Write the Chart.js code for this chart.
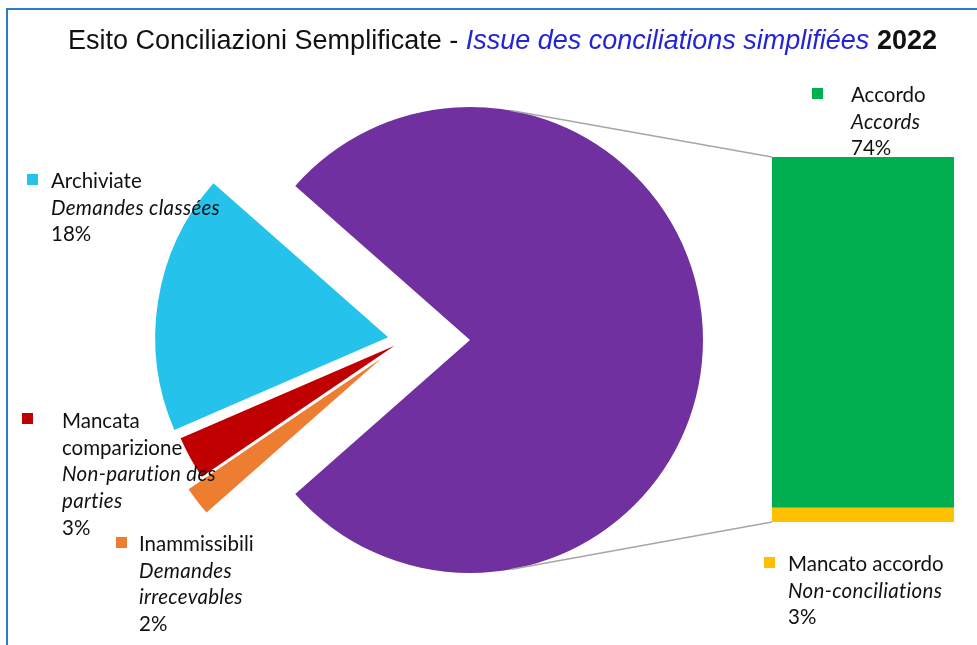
<!DOCTYPE html>
<html>
<head>
<meta charset="utf-8">
<script src="https://cdn.jsdelivr.net/npm/chart.js@4"></script>
<style>
  html, body { margin: 0; padding: 0; background: #fff; }
  #wrap { position: relative; width: 977px; height: 645px; overflow: hidden; }
  #frame { position: absolute; left: 6px; top: 8px; right: 0; bottom: 0;
           border-top: 2px solid #2a7bcc; border-left: 2px solid #2a7bcc; }
  canvas { position: absolute; left: 0; top: 0; }
  #title { position: absolute; left: 68px; top: 25px; white-space: nowrap;
           font-family: "Liberation Sans", Arial, sans-serif; font-size: 27px;
           color: #111; transform-origin: 0 0; }
  #title i { color: #2323d8; }
  .lbl { position: absolute; font-family: Lato, "Open Sans", sans-serif; font-size: 20.5px;
         line-height: 26.7px; color: #111; z-index: 5; }
  .lbl i { letter-spacing: 0.3px; }
  .sq { position: absolute; width: 11px; height: 11px; z-index: 5; }
</style>
</head>
<body>
<div id="wrap">
  <div id="frame"></div>
  <canvas id="pie" width="977" height="645"></canvas>
  <canvas id="bar" width="977" height="645"></canvas>
  <div id="title">Esito Conciliazioni Semplificate - <i>Issue des conciliations simplifiées</i> <b>2022</b></div>
</div>
<script>
// bar (breakdown of the big slice)
const barCategories = ['Accordo', 'Mancato accordo']
const barSubLabels = ['Accords', 'Non-conciliations']
const barValues = [74, 3]
const barColors = ['#00b050', '#ffc000']

// remaining pie slices, clockwise after the big slice
const pieCategories = ['Inammissibili', 'Mancata comparizione', 'Archiviate']
const pieSubLabels = ['Demandes irrecevables', 'Non-parution des parties', 'Demandes classées']
const pieValues = [2, 3, 18]
const pieColors = ['#ed7d31', '#c00000', '#25c3ec']
const otherColor = '#7030a0'

// label placement: [left, top of text, square left, square top, wrap width]
const labelBoxes = {
  'Accordo': [851, 81, 812, 88, 120],
  'Mancato accordo': [788, 550, 764, 557, 200],
  'Inammissibili': [139, 530, 116, 537, 125],
  'Mancata comparizione': [62, 407, 22, 413, 168],
  'Archiviate': [51, 167, 27, 174, 210],
}

const otherTotal = barValues.reduce((a, b) => a + b, 0)
const allPie = [otherTotal, ...pieValues]
const total = allPie.reduce((a, b) => a + b, 0)
const otherDeg = (otherTotal / total) * 360

const wrap = document.getElementById('wrap')
function addLabel(name, sub, value, color) {
  const b = labelBoxes[name]
  const sq = document.createElement('div')
  sq.className = 'sq'
  sq.style.left = b[2] + 'px'
  sq.style.top = b[3] + 'px'
  sq.style.background = color
  wrap.appendChild(sq)
  const d = document.createElement('div')
  d.className = 'lbl'
  d.style.left = b[0] + 'px'
  d.style.top = b[1] + 'px'
  d.style.width = b[4] + 'px'
  d.innerHTML = name + '<br><i>' + sub + '</i><br>' + value + '%'
  wrap.appendChild(d)
}
barCategories.forEach((c, i) => addLabel(c, barSubLabels[i], barValues[i], barColors[i]))
pieCategories.forEach((c, i) => addLabel(c, pieSubLabels[i], pieValues[i], pieColors[i]))

// fit title width
const title = document.getElementById('title')
title.style.transform = 'scaleX(' + (869 / title.offsetWidth) + ')'

// Chart.js grows and narrows offset arcs; undo that so every slice keeps
// the same radius and its full angle
const explodeFix = {
  id: 'explodeFix',
  afterDatasetUpdate(chart, args) {
    const meta = args.meta
    const r = meta.controller.outerRadius
    meta.data.forEach((arc) => {
      const off = (arc.options.offset || 0) / 4
      const grow = off * (1 - Math.sin(Math.min(Math.PI, arc.circumference)))
      arc.outerRadius = r - grow
      const widen = grow / Math.PI / r / 2
      arc.startAngle -= widen
      arc.endAngle += widen
    })
  },
}

const pieChart = new Chart(document.getElementById('pie'), {
  type: 'pie',
  plugins: [explodeFix],
  data: {
    labels: ['Altro', ...pieCategories],
    datasets: [
      {
        data: allPie,
        backgroundColor: [otherColor, ...pieColors],
        borderWidth: 0,
        offset: [260, 120, 48, 68],
      },
    ],
  },
  options: {
    responsive: false,
    animation: false,
    events: [],
    rotation: 90 - otherDeg / 2,
    radius: 233,
    layout: { padding: { left: 105, right: 272, top: 40, bottom: 5 } },
    plugins: { legend: { display: false }, tooltip: { enabled: false } },
  },
})

// grey lines from the big slice to the bar
const connectors = {
  id: 'connectors',
  afterDatasetsDraw(chart) {
    const arc = pieChart.getDatasetMeta(0).data[0]
    const mid = (arc.startAngle + arc.endAngle) / 2
    const shift = (arc.options.offset || 0) / 4
    const cx = arc.x + Math.cos(mid) * shift
    const cy = arc.y + Math.sin(mid) * shift
    const r = arc.outerRadius + shift * (1 - Math.sin(Math.min(Math.PI, arc.circumference)))
    const bottomBar = chart.getDatasetMeta(0).data[0]
    const topBar = chart.getDatasetMeta(1).data[0]
    const left = topBar.x - topBar.width / 2
    const pts = [
      [left, topBar.y, -1],
      [left, bottomBar.base, 1],
    ]
    const ctx = chart.ctx
    ctx.save()
    ctx.strokeStyle = '#a6a6a6'
    ctx.lineWidth = 1.5
    pts.forEach(([px, py, side]) => {
      const dx = px - cx
      const dy = py - cy
      const d = Math.sqrt(dx * dx + dy * dy)
      const a = Math.atan2(dy, dx) + side * Math.acos(r / d)
      ctx.beginPath()
      ctx.moveTo(cx + Math.cos(a) * r, cy + Math.sin(a) * r)
      ctx.lineTo(px, py)
      ctx.stroke()
    })
    ctx.restore()
  },
}

new Chart(document.getElementById('bar'), {
  type: 'bar',
  plugins: [connectors],
  data: {
    labels: [''],
    datasets: [
      {
        label: barCategories[1],
        data: [barValues[1]],
        backgroundColor: barColors[1],
        barPercentage: 1,
        categoryPercentage: 1,
      },
      {
        label: barCategories[0],
        data: [barValues[0]],
        backgroundColor: barColors[0],
        barPercentage: 1,
        categoryPercentage: 1,
      },
    ],
  },
  options: {
    responsive: false,
    animation: false,
    events: [],
    layout: { padding: { left: 772, right: 23, top: 157, bottom: 123 } },
    scales: {
      x: { stacked: true, display: false },
      y: { stacked: true, display: false, min: 0, max: otherTotal },
    },
    plugins: { legend: { display: false }, tooltip: { enabled: false } },
  },
})
</script>
</body>
</html>
